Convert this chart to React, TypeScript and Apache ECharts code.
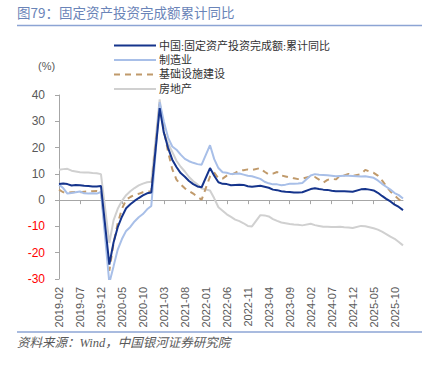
import React, { useEffect, useRef } from "react";
import * as echarts from "echarts";

const months: string[] = (() => {
  const out: string[] = [];
  for (let y = 2019; y <= 2025; y++) {
    for (let m = 1; m <= 12; m++) {
      if (y === 2019 && m < 2) continue;
      out.push(`${y}-${String(m).padStart(2, "0")}`);
    }
  }
  return out;
})();

// January has no release (Jan–Feb combined): null
const fai = [
  6.1, 6.3, 6.1, 5.6, 5.8, 5.7, 5.5, 5.4, 5.2, 5.2, 5.4,
  null, -24.5, -16.1, -10.3, -6.3, -3.1, -1.6, -0.3, 0.8, 1.8, 2.6, 2.9,
  null, 35.0, 25.6, 19.9, 15.4, 12.6, 10.3, 8.9, 7.3, 6.1, 5.2, 4.9,
  null, 12.2, 9.3, 6.8, 6.2, 6.1, 5.7, 5.8, 5.9, 5.8, 5.3, 5.1,
  null, 5.5, 5.1, 4.7, 4.0, 3.8, 3.4, 3.2, 3.1, 2.9, 2.9, 3.0,
  null, 4.2, 4.5, 4.2, 4.0, 3.9, 3.6, 3.4, 3.4, 3.4, 3.3, 3.2,
  null, 4.1, 4.2, 4.0, 3.7, 2.8, 1.6, 0.5, -0.5, -1.7, -2.6, -3.8,
];
const manufacturing = [
  5.9, 4.6, 2.5, 2.7, 3.0, 3.3, 2.6, 2.5, 2.6, 2.5, 3.1,
  null, -31.5, -25.2, -18.8, -14.8, -11.7, -10.2, -8.1, -6.5, -5.3, -3.5, -2.2,
  null, 37.3, 29.8, 23.8, 20.4, 19.2, 17.3, 15.7, 14.8, 14.2, 13.7, 13.5,
  null, 20.9, 15.6, 12.2, 10.6, 10.4, 9.9, 10.0, 10.1, 9.7, 9.3, 9.1,
  null, 8.1, 7.0, 6.4, 6.0, 6.0, 5.7, 5.9, 6.2, 6.2, 6.3, 6.5,
  null, 9.4, 9.9, 9.7, 9.6, 9.5, 9.3, 9.1, 9.2, 9.3, 9.3, 9.2,
  null, 9.0, 9.1, 8.8, 8.5, 7.5, 6.2, 5.1, 4.0, 2.7, 1.9, 0.6,
];
const infrastructure = [
  4.0, 3.0, 2.9, 3.0, 3.1, 3.0, 3.2, 3.3, 3.4, 3.5, 3.3,
  null, -26.9, -16.4, -8.8, -3.3, 0.1, 1.2, 2.0, 2.4, 3.0, 3.3, 3.4,
  null, 36.6, 26.8, 18.4, 11.8, 7.8, 6.0, 4.5, 3.5, 2.5, 1.2, 0.2,
  null, 9.0, 10.5, 8.3, 8.2, 9.3, 9.6, 10.4, 11.2, 11.4, 11.7, 11.5,
  null, 12.2, 10.8, 9.8, 10.1, 10.7, 9.4, 9.0, 8.6, 8.3, 8.0, 8.2,
  null, 9.0, 8.8, 7.8, 6.7, 7.7, 8.1, 7.9, 9.3, 9.4, 10.0, 9.2,
  null, 9.9, 11.5, 10.9, 10.4, 9.3, 7.5, 5.4, 3.3, 1.8, 0.3, -0.8,
];
const realEstate = [
  11.6, 11.8, 11.9, 11.2, 10.9, 10.6, 10.5, 10.5, 10.3, 10.2, 9.9,
  null, -16.3, -7.7, -3.3, -0.3, 1.9, 3.4, 4.6, 5.6, 6.3, 6.8, 7.0,
  null, 38.3, 25.6, 21.6, 18.3, 15.0, 12.7, 10.9, 8.8, 7.2, 6.0, 4.4,
  null, 3.7, 0.7, -2.7, -4.0, -5.4, -6.4, -7.4, -8.0, -8.8, -9.8, -10.0,
  null, -5.7, -5.8, -6.2, -7.2, -7.9, -8.5, -8.8, -9.1, -9.3, -9.4, -9.6,
  null, -9.0, -9.5, -9.8, -10.1, -10.1, -10.2, -10.2, -10.1, -10.3, -10.4, -10.6,
  null, -9.8, -9.9, -10.3, -10.7, -11.2, -12.0, -12.9, -13.9, -14.7, -15.9, -17.2,
];

const seriesNames = ["中国:固定资产投资完成额:累计同比", "制造业", "基础设施建设", "房地产"];
const titleText = "图79：固定资产投资完成额累计同比";
const sourceText = "资料来源：Wind，中国银河证券研究院";
const unitText = "(%)";

const CJK = '"Liberation Serif", "Noto Sans CJK SC", serif';
const SANS = '"Liberation Sans", "Noto Sans CJK SC", sans-serif';

export default function App() {
  const ref = useRef<HTMLDivElement>(null);
  useEffect(() => {
    document.body.style.margin = "0";
    const chart = echarts.init(ref.current!, undefined, { renderer: "svg" });
    chart.setOption({
      animation: false,
      backgroundColor: "#ffffff",
      grid: { left: 59, right: 32, top: 95, bottom: 86 },
      legend: {
        data: seriesNames,
        orient: "vertical",
        left: 108,
        top: 35,
        itemWidth: 42,
        itemHeight: 12,
        itemGap: 3.5,
        itemStyle: { opacity: 0 },
        textStyle: { fontSize: 11, color: "#333", fontFamily: CJK, padding: [0, 0, 0, -2] },
      },
      xAxis: [
        {
          type: "category",
          data: months,
          boundaryGap: false,
          position: "bottom",
          axisLine: { show: false, onZero: false },
          axisTick: { show: false },
          axisLabel: {
            interval: 4,
            rotate: 90,
            margin: 8,
            fontSize: 11,
            color: "#595959",
            fontFamily: SANS,
          },
        },
        {
          type: "category",
          data: months,
          boundaryGap: false,
          position: "bottom",
          axisLine: { show: true, onZero: true, lineStyle: { color: "#a6a6a6", width: 1 } },
          axisTick: { show: true, interval: 4, length: 4, lineStyle: { color: "#a6a6a6" } },
          axisLabel: { show: false },
        },
      ],
      yAxis: {
        type: "value",
        min: -30,
        max: 40,
        interval: 10,
        splitLine: { show: false },
        axisLine: { show: true, lineStyle: { color: "#a6a6a6" } },
        axisTick: { show: true, length: 4, lineStyle: { color: "#a6a6a6" } },
        axisLabel: {
          margin: 14,
          fontSize: 12,
          fontFamily: SANS,
          formatter: (v: number) => (v < 0 ? `{neg|${v}}` : `{pos|${v}}`),
          rich: {
            neg: { color: "#ff0000", fontSize: 12, fontFamily: SANS },
            pos: { color: "#595959", fontSize: 12, fontFamily: SANS },
          },
        },
      },
      series: [
        {
          name: seriesNames[3],
          type: "line",
          data: realEstate,
          symbol: "none",
          connectNulls: true,
          z: 1,
          lineStyle: { color: "#d0d0d0", width: 2 },
          itemStyle: { color: "#d0d0d0" },
        },
        {
          name: seriesNames[2],
          type: "line",
          data: infrastructure,
          symbol: "none",
          connectNulls: true,
          z: 2,
          lineStyle: { color: "#c09a6b", width: 2, type: [6, 5] },
          itemStyle: { color: "#c09a6b" },
        },
        {
          name: seriesNames[1],
          type: "line",
          data: manufacturing,
          symbol: "none",
          connectNulls: true,
          z: 3,
          lineStyle: { color: "#a8bfe8", width: 2 },
          itemStyle: { color: "#a8bfe8" },
        },
        {
          name: seriesNames[0],
          type: "line",
          data: fai,
          symbol: "none",
          connectNulls: true,
          z: 4,
          lineStyle: { color: "#15348c", width: 2 },
          itemStyle: { color: "#15348c" },
        },
      ],
      graphic: [
        {
          type: "text",
          left: 17,
          top: 5,
          style: { text: titleText, fontSize: 13.5, fill: "#6a84b8", fontFamily: '"Noto Sans CJK SC", sans-serif' },
        },
        {
          type: "line",
          shape: { x1: 17, y1: 25.5, x2: 422, y2: 25.5 },
          style: { stroke: "#8ca4d4", lineWidth: 1.5 },
        },
        {
          type: "text",
          left: 38,
          top: 60,
          style: { text: unitText, fontSize: 11, fill: "#595959", fontFamily: SANS },
        },
        {
          type: "line",
          shape: { x1: 17, y1: 332, x2: 422, y2: 332 },
          style: { stroke: "#8ca4d4", lineWidth: 1.5 },
        },
        {
          type: "text",
          left: 17,
          top: 337,
          style: {
            text: sourceText,
            fontSize: 12.5,
            fontStyle: "italic",
            fill: "#595959",
            fontFamily: CJK,
          },
        },
      ],
    });
    return () => chart.dispose();
  }, []);
  return <div ref={ref} style={{ width: 435, height: 365 }} />;
}
